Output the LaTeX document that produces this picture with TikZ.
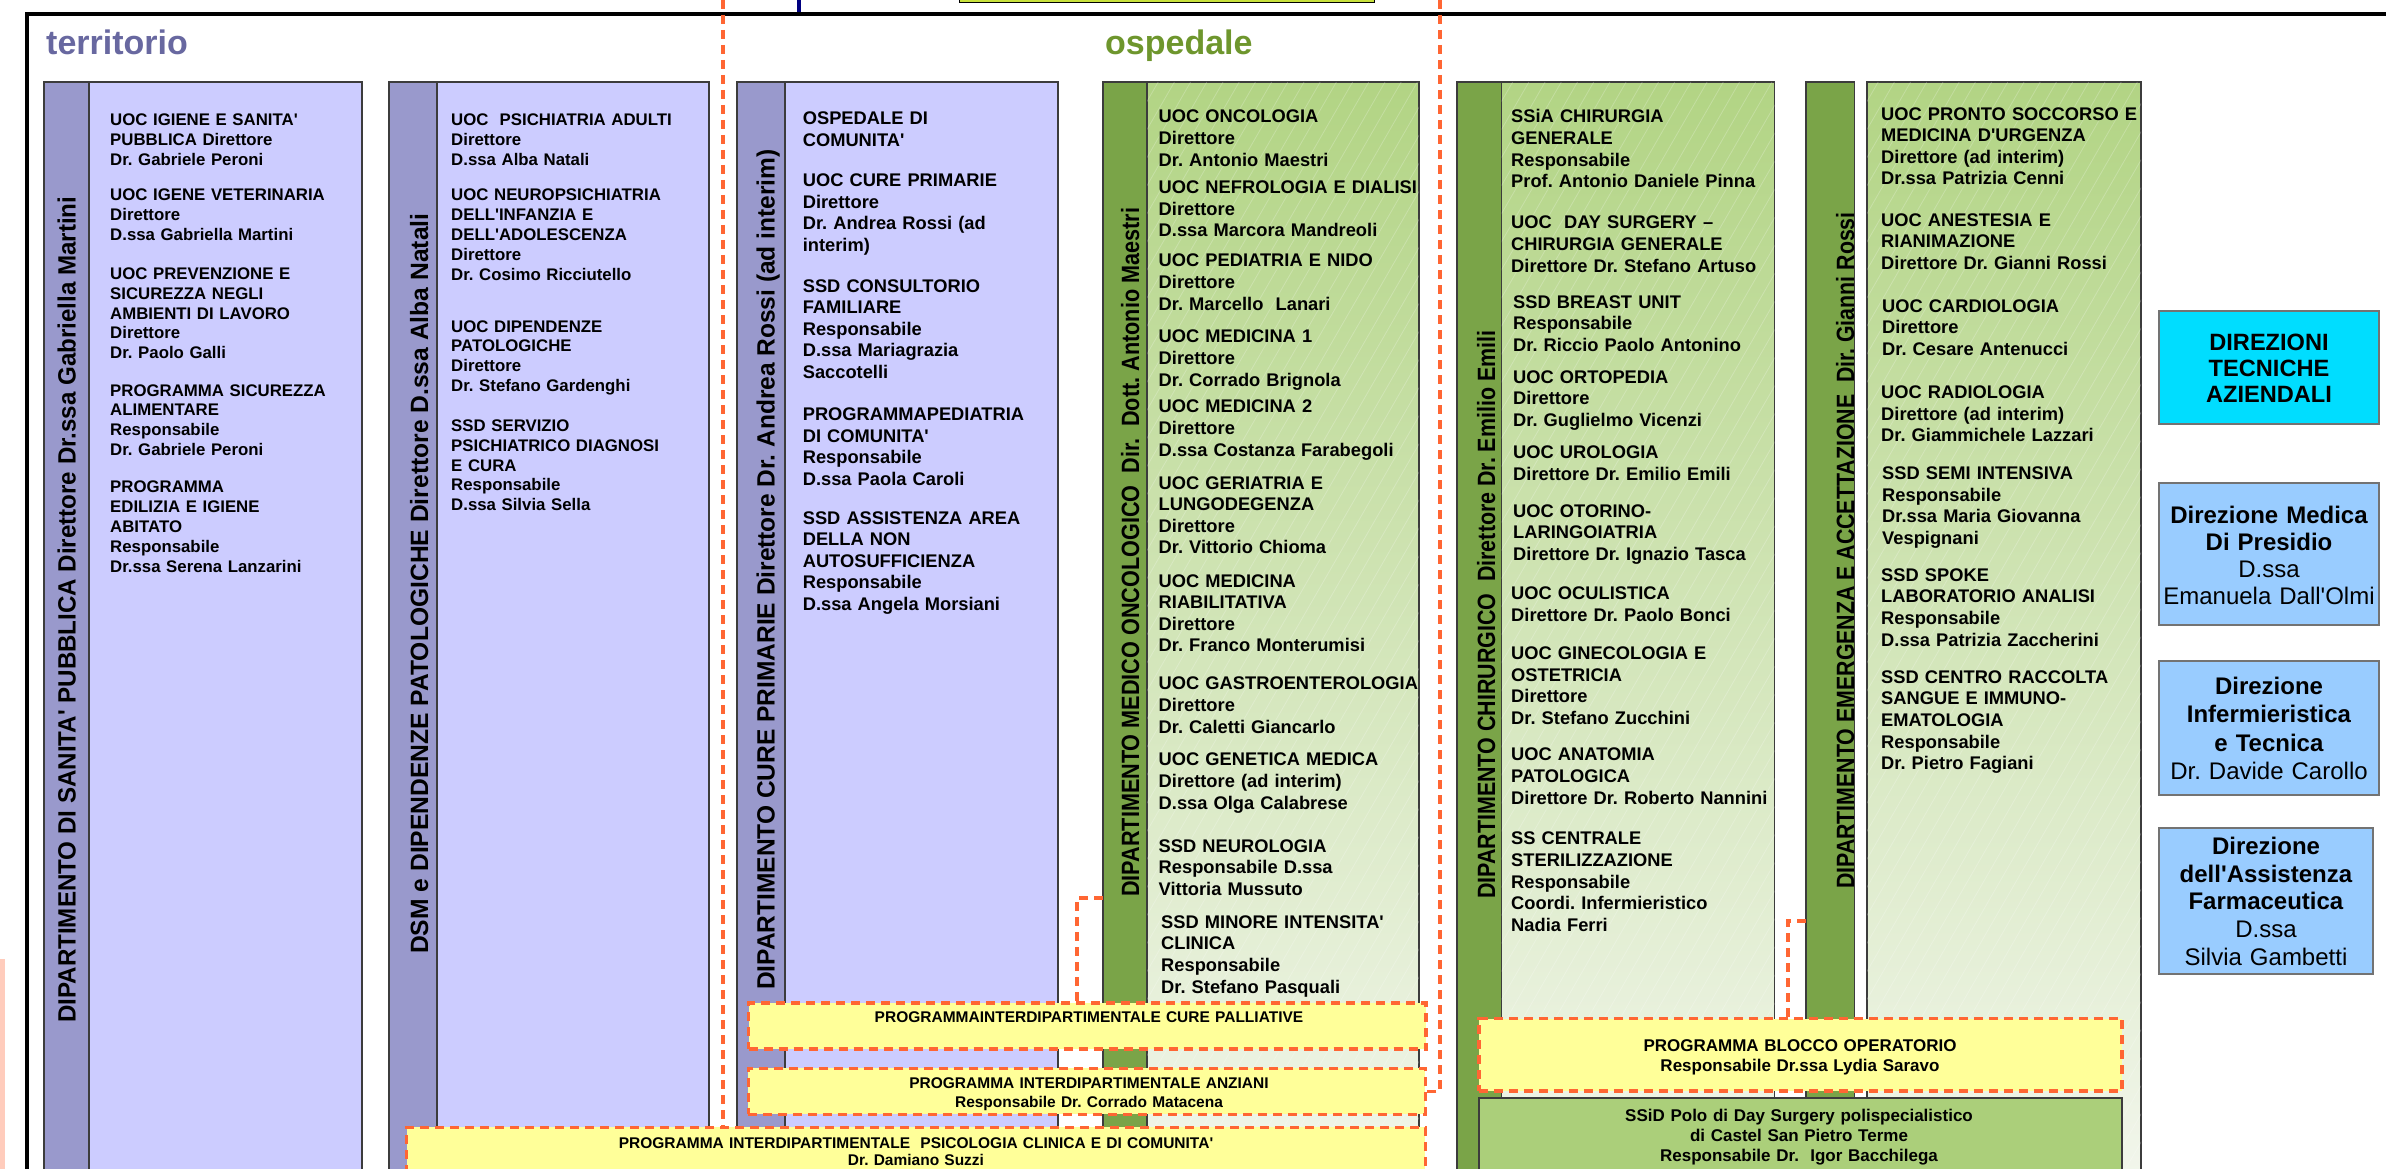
\documentclass[tikz,border=0pt]{standalone}
\usepackage{fontspec}
\setmainfont{Liberation Sans}[Ligatures=TeXOff]
\definecolor{terrstrip}{RGB}{153,153,204}
\definecolor{terrbody}{RGB}{204,204,255}
\definecolor{ospstrip}{RGB}{122,164,72}
\definecolor{ospbodytop}{RGB}{178,212,132}
\definecolor{ospbodybot}{RGB}{242,246,236}
\definecolor{progred}{RGB}{255,102,51}
\definecolor{progyellow}{RGB}{255,255,153}
\definecolor{ssidgreen}{RGB}{171,207,122}
\definecolor{dircyan}{RGB}{0,221,255}
\definecolor{dirblue}{RGB}{153,204,255}
\definecolor{terrtext}{RGB}{104,104,160}
\definecolor{osptext}{RGB}{110,150,45}
\definecolor{topgreen}{RGB}{200,225,60}
\definecolor{topblue}{RGB}{0,0,128}
\definecolor{pinkc}{RGB}{255,204,188}
\definecolor{boxline}{RGB}{60,60,60}
\newcommand{\uA}[4]{\node[unitA] (#1) at (#2,#3) {#4};}
\newcommand{\uB}[4]{\node[unitB] (#1) at (#2,#3) {#4};}
\newcommand{\hatchbox}[1]{\begin{scope}\clip (#1.north west) rectangle (#1.south east);
  \foreach \i in {0,...,58} {\draw[hatch] ($(#1.south west)+(-640+\i*16.2,0)$) -- ++(635,-1100);}\end{scope}}
\usetikzlibrary{calc}
\begin{document}
\frenchspacing
\begin{tikzpicture}[x=1pt,y=-1pt,
  box/.style={anchor=north west, inner sep=0pt, outer sep=0pt},
  tstrip/.style={box, draw=boxline, line width=1.2pt, fill=terrstrip},
  tbody/.style={box, draw=boxline, line width=1.2pt, fill=terrbody},
  ostrip/.style={box, draw=boxline, line width=1.2pt, fill=ospstrip},
  obody/.style={box, draw=boxline, line width=1.2pt, top color=ospbodytop, bottom color=ospbodybot},
  hatch/.style={draw=white, draw opacity=0.22, line width=0.8pt},
  unitA/.style={anchor=base west, inner sep=0pt, text width=330pt, align=left, font=\bfseries\fontsize{16.8}{19.9}\selectfont},
  unitB/.style={anchor=base west, inner sep=0pt, text width=330pt, align=left, font=\bfseries\fontsize{18.3}{21.6}\selectfont},
  vlabel/.style={rotate=90, anchor=base west, inner sep=0pt, font=\bfseries\fontsize{25}{30}\selectfont},
  prog/.style={box, draw=progred, line width=3.5pt, dash pattern=on 9pt off 6pt, fill=progyellow},
  conn/.style={draw=progred, line width=3.5pt, dash pattern=on 9pt off 6pt},
  ctext/.style={anchor=base, inner sep=0pt, align=center, text width=#1},
  ctext/.default=640pt,
  dirbox/.style={box, draw=black!55, line width=1.5pt},
  head/.style={anchor=base west, inner sep=0pt, font=\bfseries\fontsize{34}{40}\selectfont}
]
\useasboundingbox (0,0) rectangle (2386,1169);
\fill[white] (0,0) rectangle (2386,1169);

% top elements
\fill[topblue] (796.5,-2) rectangle (800.5,14);
\draw[fill=topgreen, line width=1pt] (959,-10) rectangle (1374,2.3);
\fill[pinkc] (0,959) rectangle (5,1180);
\draw[line width=4pt] (27,1185) -- (27,14) -- (2395,14);

% headers
\node[head, text=terrtext] (hterr) at (46,55) {territorio};
\node[head, text=osptext] (hosp) at (1105,55) {ospedale};

% departments (territorio)
\node[tstrip, minimum width=45pt, minimum height=1100pt] (s1) at (44,82) {};
\node[tbody, minimum width=273pt, minimum height=1100pt] (b1) at (89,82) {};
\node[tstrip, minimum width=48pt, minimum height=1100pt] (s2) at (389,82) {};
\node[tbody, minimum width=272pt, minimum height=1100pt] (b2) at (437,82) {};
\node[tstrip, minimum width=48pt, minimum height=1100pt] (s3) at (737,82) {};
\node[tbody, minimum width=273pt, minimum height=1100pt] (b3) at (785,82) {};
% departments (ospedale)
\node[ostrip, minimum width=44pt, minimum height=1100pt] (s4) at (1103,82) {};
\node[obody, minimum width=272pt, minimum height=1100pt] (b4) at (1147,82) {};
\node[ostrip, minimum width=44.5pt, minimum height=1100pt] (s5) at (1457,82) {};
\node[obody, minimum width=273pt, minimum height=1100pt] (b5) at (1501.5,82) {};
\node[ostrip, minimum width=48.6pt, minimum height=1100pt] (s6) at (1806,82) {};
\node[obody, minimum width=274pt, minimum height=1100pt] (b6) at (1867,82) {};
\hatchbox{b4}
\hatchbox{b5}
\hatchbox{b6}

% vertical labels
\node[vlabel] (l1) at (75.6,1023) {\scalebox{0.965}[1]{DIPARTIMENTO DI SANITA' PUBBLICA Direttore Dr.ssa Gabriella Martini}};
\node[vlabel] (l2) at (428,954) {\scalebox{0.985}[1]{DSM e DIPENDENZE PATOLOGICHE Direttore D.ssa Alba Natali}};
\node[vlabel] (l3) at (774.5,990) {\scalebox{0.98}[1]{DIPARTIMENTO CURE PRIMARIE Direttore Dr. Andrea Rossi (ad interim)}};
\node[vlabel] (l4) at (1139,897) {\scalebox{0.865}[1]{DIPARTIMENTO MEDICO ONCOLOGICO\ \ Dir.\ \ Dott. Antonio Maestri}};
\node[vlabel] (l5) at (1495,899) {\scalebox{0.857}[1]{DIPARTIMENTO CHIRURGICO\ \ Direttore Dr. Emilio Emili}};
\node[vlabel] (l6) at (1854,889) {\scalebox{0.853}[1]{DIPARTIMENTO EMERGENZA E ACCETTAZIONE\ \ Dir. Gianni Rossi}};

% D1
\uA{u11}{110}{125.4}{UOC IGIENE E SANITA'\\PUBBLICA Direttore\\Dr. Gabriele Peroni}
\uA{u12}{110}{200.8}{UOC IGENE VETERINARIA\\Direttore\\D.ssa Gabriella Martini}
\uA{u13}{110}{279.3}{UOC PREVENZIONE E\\SICUREZZA NEGLI\\AMBIENTI DI LAVORO\\Direttore\\Dr. Paolo Galli}
\uA{u14}{110}{396}{PROGRAMMA SICUREZZA\\ALIMENTARE\\Responsabile\\Dr. Gabriele Peroni}
\uA{u15}{110}{492.8}{PROGRAMMA\\EDILIZIA E IGIENE\\ABITATO\\Responsabile\\Dr.ssa Serena Lanzarini}
% D2
\uA{u21}{451}{125.4}{UOC\ \ PSICHIATRIA ADULTI\\Direttore\\D.ssa Alba Natali}
\uA{u22}{451}{200.8}{UOC NEUROPSICHIATRIA\\DELL'INFANZIA E\\DELL'ADOLESCENZA\\Direttore\\Dr. Cosimo Ricciutello}
\uA{u23}{451}{332}{UOC DIPENDENZE\\PATOLOGICHE\\Direttore\\Dr. Stefano Gardenghi}
\uA{u24}{451}{431.2}{SSD SERVIZIO\\PSICHIATRICO DIAGNOSI\\E CURA\\Responsabile\\D.ssa Silvia Sella}
% D3
\uB{u31}{802.6}{124.8}{OSPEDALE DI\\COMUNITA'}
\uB{u32}{802.6}{186.8}{UOC CURE PRIMARIE\\Direttore\\Dr. Andrea Rossi (ad\\interim)}
\uB{u33}{802.6}{292}{SSD CONSULTORIO\\FAMILIARE\\Responsabile\\D.ssa Mariagrazia\\Saccotelli}
\uB{u34}{802.6}{420.6}{PROGRAMMAPEDIATRIA\\DI COMUNITA'\\Responsabile\\D.ssa Paola Caroli}
\uB{u35}{802.6}{524}{SSD ASSISTENZA AREA\\DELLA NON\\AUTOSUFFICIENZA\\Responsabile\\D.ssa Angela Morsiani}
% D4
\uB{u41}{1158.5}{122.9}{UOC ONCOLOGIA\\Direttore\\Dr. Antonio Maestri}
\uB{u42}{1158.5}{193.7}{UOC NEFROLOGIA E DIALISI\\Direttore\\D.ssa Marcora Mandreoli}
\uB{u43}{1158.5}{266.8}{UOC PEDIATRIA E NIDO\\Direttore\\Dr. Marcello\ \ Lanari}
\uB{u44}{1158.5}{342.9}{UOC MEDICINA 1\\Direttore\\Dr. Corrado Brignola}
\uB{u45}{1158.5}{412.9}{UOC MEDICINA 2\\Direttore\\D.ssa Costanza Farabegoli}
\uB{u46}{1158.5}{489.1}{UOC GERIATRIA E\\LUNGODEGENZA\\Direttore\\Dr. Vittorio Chioma}
\uB{u47}{1158.5}{587.1}{UOC MEDICINA\\RIABILITATIVA\\Direttore\\Dr. Franco Monterumisi}
\uB{u48}{1158.5}{689.8}{UOC GASTROENTEROLOGIA\\Direttore\\Dr. Caletti Giancarlo}
\uB{u49}{1158.5}{765.8}{UOC GENETICA MEDICA\\Direttore (ad interim)\\D.ssa Olga Calabrese}
\uB{u410}{1158.5}{852.2}{SSD NEUROLOGIA\\Responsabile D.ssa\\Vittoria Mussuto}
\uB{u411}{1161}{928.2}{SSD MINORE INTENSITA'\\CLINICA\\Responsabile\\Dr. Stefano Pasquali}
% D5
\uB{u51}{1511}{122.9}{SSiA CHIRURGIA\\GENERALE\\Responsabile\\Prof. Antonio Daniele Pinna}
\uB{u52}{1511}{228.9}{UOC\ \ DAY SURGERY –\\CHIRURGIA GENERALE\\Direttore Dr. Stefano Artuso}
\uB{u53}{1513}{308.1}{SSD BREAST UNIT\\Responsabile\\Dr. Riccio Paolo Antonino}
\uB{u54}{1513}{383.1}{UOC ORTOPEDIA\\Direttore\\Dr. Guglielmo Vicenzi}
\uB{u55}{1513}{458.5}{UOC UROLOGIA\\Direttore Dr. Emilio Emili}
\uB{u56}{1513}{517}{UOC OTORINO-\\LARINGOIATRIA\\Direttore Dr. Ignazio Tasca}
\uB{u57}{1511}{599.7}{UOC OCULISTICA\\Direttore Dr. Paolo Bonci}
\uB{u58}{1511}{659.4}{UOC GINECOLOGIA E\\OSTETRICIA\\Direttore\\Dr. Stefano Zucchini}
\uB{u59}{1511}{760.8}{UOC ANATOMIA\\PATOLOGICA\\Direttore Dr. Roberto Nannini}
\uB{u510}{1511}{844.8}{SS CENTRALE\\STERILIZZAZIONE\\Responsabile\\Coordi. Infermieristico\\Nadia Ferri}
% D6
\uB{u61}{1881}{120.2}{UOC PRONTO SOCCORSO E\\MEDICINA D'URGENZA\\Direttore (ad interim)\\Dr.ssa Patrizia Cenni}
\uB{u62}{1881}{226.2}{UOC ANESTESIA E\\RIANIMAZIONE\\Direttore Dr. Gianni Rossi}
\uB{u63}{1882}{312.3}{UOC CARDIOLOGIA\\Direttore\\Dr. Cesare Antenucci}
\uB{u64}{1881}{398.4}{UOC RADIOLOGIA\\Direttore (ad interim)\\Dr. Giammichele Lazzari}
\uB{u65}{1882}{479.5}{SSD SEMI INTENSIVA\\Responsabile\\Dr.ssa Maria Giovanna\\Vespignani}
\uB{u66}{1881}{581.3}{SSD SPOKE\\LABORATORIO ANALISI\\Responsabile\\D.ssa Patrizia Zaccherini}
\uB{u67}{1881}{683.2}{SSD CENTRO RACCOLTA\\SANGUE E IMMUNO-\\EMATOLOGIA\\Responsabile\\Dr. Pietro Fagiani}

% programme boxes
\node[prog, minimum width=677.5pt, minimum height=46pt] (pall) at (748.5,1003) {};
\node[ctext, font=\bfseries\fontsize{15.5}{18.4}\selectfont] (tpall) at (1089,1022.2) {PROGRAMMAINTERDIPARTIMENTALE CURE PALLIATIVE};
\node[prog, minimum width=677pt, minimum height=46pt] (anz) at (748.3,1068.3) {};
\node[ctext, font=\bfseries\fontsize{15.5}{18.4}\selectfont] (tanz) at (1089,1088.8) {PROGRAMMA INTERDIPARTIMENTALE ANZIANI\\Responsabile Dr. Corrado Matacena};
\node[prog, minimum width=1018.6pt, minimum height=70pt] (psico) at (406.7,1127.3) {};
\node[ctext, font=\bfseries\fontsize{15.5}{17.5}\selectfont] (tpsico) at (916,1148) {PROGRAMMA INTERDIPARTIMENTALE\ \ PSICOLOGIA CLINICA E DI COMUNITA'\\Dr. Damiano Suzzi};
\node[prog, minimum width=643pt, minimum height=72.5pt] (blocco) at (1479,1018.5) {};
\node[ctext, font=\bfseries\fontsize{17}{20}\selectfont] (tblocco) at (1800,1051) {PROGRAMMA BLOCCO OPERATORIO\\Responsabile Dr.ssa Lydia Saravo};
\node[box, draw=boxline, line width=1.5pt, fill=ssidgreen, minimum width=643pt, minimum height=90pt] (ssid) at (1479,1098) {};
\node[ctext, font=\bfseries\fontsize{17}{19.8}\selectfont] (tssid) at (1799,1121.5) {SSiD Polo di Day Surgery polispecialistico\\di Castel San Pietro Terme\\Responsabile Dr.\ \ Igor Bacchilega};

% connectors
\coordinate (topL) at (723,0);
\coordinate (topR) at (1440,0);
\coordinate (c1) at (1077,898);
\coordinate (c2) at (1788,921);
\draw[conn] (topL) -- (psico.north -| topL);
\draw[conn] (topR) |- (anz.east);
\draw[conn] (s4.west |- c1) -- (c1) -- (pall.north -| c1);
\draw[conn] (s6.west |- c2) -- (c2) -- (blocco.north -| c2);

% direzioni tecniche
\node[dirbox, fill=dircyan, minimum width=220pt, minimum height=113pt] (dt) at (2159,311) {};
\node[ctext=215pt, font=\bfseries\fontsize{23.6}{26.2}\selectfont] (tdt) at (2269,350) {DIREZIONI\\TECNICHE\\AZIENDALI};
\node[dirbox, fill=dirblue, minimum width=220pt, minimum height=142pt] (dm) at (2159,483) {};
\node[ctext=215pt, font=\fontsize{24}{27.2}\selectfont] (tdm) at (2269,523) {\textbf{Direzione Medica}\\\textbf{Di Presidio}\\D.ssa\\Emanuela Dall'Olmi};
\node[dirbox, fill=dirblue, minimum width=220pt, minimum height=134pt] (di) at (2159,661) {};
\node[ctext=215pt, font=\fontsize{24}{28.5}\selectfont] (tdi) at (2269,694) {\textbf{Direzione}\\\textbf{Infermieristica}\\\textbf{e Tecnica}\\Dr. Davide Carollo};
\node[dirbox, fill=dirblue, minimum width=214pt, minimum height=146pt] (df) at (2159,828) {};
\node[ctext=210pt, font=\fontsize{24}{27.6}\selectfont] (tdf) at (2266,854.6) {\textbf{Direzione}\\\textbf{dell'Assistenza}\\\textbf{Farmaceutica}\\D.ssa\\Silvia Gambetti};
\end{tikzpicture}
\end{document}
